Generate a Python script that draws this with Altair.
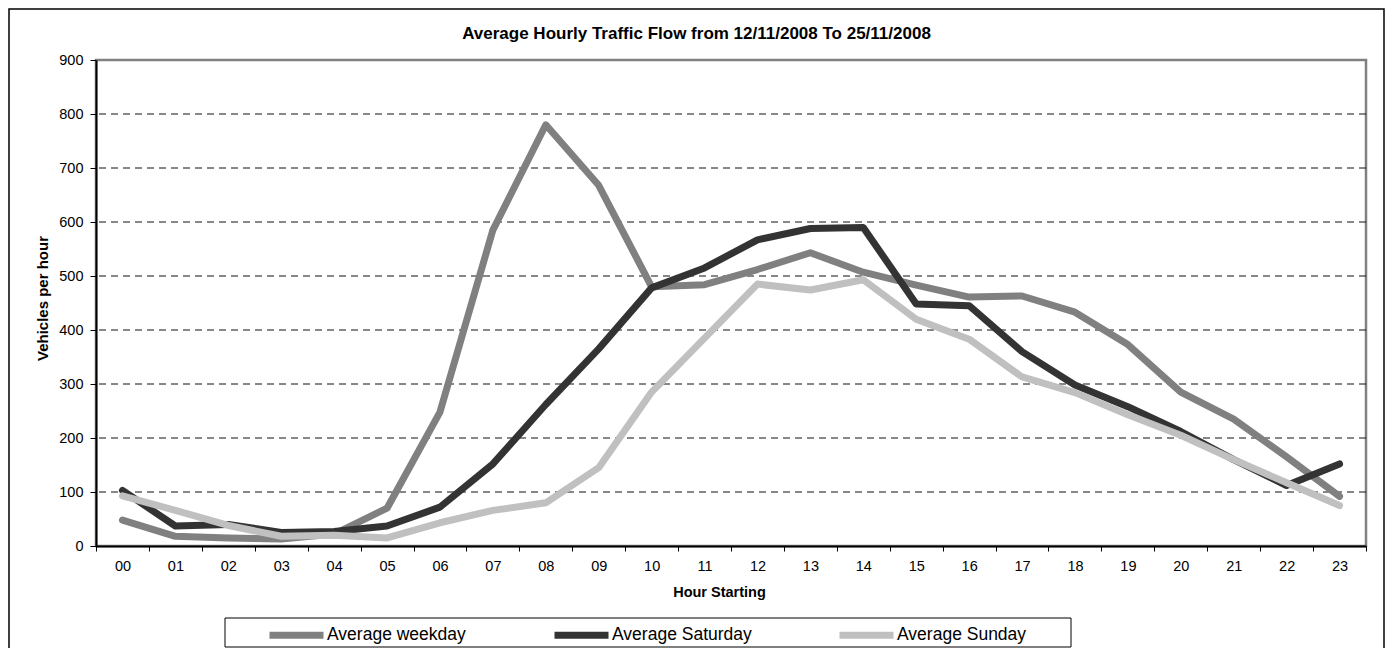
import altair as alt
import pandas as pd

hours = ["00", "01", "02", "03", "04", "05", "06", "07", "08", "09", "10", "11",
         "12", "13", "14", "15", "16", "17", "18", "19", "20", "21", "22", "23"]
weekday = [48, 18, 15, 13, 22, 70, 248, 585, 780, 668, 480, 484,
           512, 543, 507, 483, 461, 463, 433, 373, 285, 235, 165, 92]
saturday = [103, 37, 40, 25, 27, 37, 72, 152, 262, 365, 478, 515,
            567, 588, 590, 448, 445, 360, 298, 258, 212, 160, 112, 152]
sunday = [93, 66, 38, 18, 20, 15, 43, 66, 80, 145, 285, 385,
          485, 474, 493, 420, 383, 313, 284, 243, 205, 160, 117, 75]
series_names = ["Average weekday", "Average Saturday", "Average Sunday"]
series_colors = ["#808080", "#333333", "#c0c0c0"]
y_ticks = [0, 100, 200, 300, 400, 500, 600, 700, 800, 900]
grid_values = [100, 200, 300, 400, 500, 600, 700, 800]
title_text = "Average Hourly Traffic Flow from 12/11/2008 To 25/11/2008"
x_title = "Hour Starting"
y_title = "Vehicles per hour"

rows = []
for name, vals in zip(series_names, [weekday, saturday, sunday]):
    for h, v in zip(hours, vals):
        rows.append({"hour": h, "value": v, "series": name})
df = pd.DataFrame(rows)
grid_df = pd.DataFrame({"g": grid_values})
one = pd.DataFrame({"k": [0]})
title_df = pd.DataFrame({"t": [title_text]})

FONT = "Liberation Sans, Arial, sans-serif"

yscale = alt.Scale(domain=[0, 900], nice=False, zero=True)

x_enc = alt.X(
    "hour:N", sort=hours,
    scale=alt.Scale(type="band", domain=hours, paddingInner=0, paddingOuter=0),
    axis=alt.Axis(
        title=x_title, titleFont=FONT, titleFontSize=14.5, titleFontWeight="bold",
        titleColor="black", titleX=623, titleY=46, titleAlign="center",
        titleBaseline="middle", titleAngle=0,
        labelAngle=0, labelFont=FONT, labelFontSize=14.5, labelColor="black",
        labelPadding=8, tickBand="extent", tickSize=5, tickColor="black",
        tickWidth=1, domainColor="black", domainWidth=2, grid=False, zindex=1,
    ),
)
y_enc = alt.Y(
    "value:Q", scale=yscale,
    axis=alt.Axis(
        values=y_ticks, title=y_title, titleFont=FONT, titleFontSize=15,
        titleFontWeight="bold", titleColor="black", titleAngle=270,
        titleX=-53.5, titleY=238, titleAlign="center", titleBaseline="middle",
        labelFont=FONT, labelFontSize=14.5, labelColor="black", labelPadding=7,
        tickSize=6, tickColor="black", tickWidth=1, domainColor="black",
        domainWidth=2, grid=False, zindex=1,
    ),
)

frame = alt.Chart(one).mark_rect(filled=False, stroke="black", strokeWidth=1.5).encode(
    x=alt.value(-87), x2=alt.value(1288), y=alt.value(-51), y2=alt.value(620)
)

title = alt.Chart(title_df).mark_text(
    font=FONT, fontSize=17, fontWeight="bold", color="black",
    align="center", baseline="middle",
).encode(text="t:N", x=alt.value(600.5), y=alt.value(-26))

grid = alt.Chart(grid_df).mark_rule(color="#111111", strokeWidth=1, strokeDash=[7, 5]).encode(
    y=alt.Y("g:Q", scale=yscale)
)

legend_box = alt.Chart(one).mark_rect(filled=False, stroke="black", strokeWidth=1).encode(
    x=alt.value(129), x2=alt.value(975), y=alt.value(558), y2=alt.value(587)
)

lines = alt.Chart(df).mark_line(strokeWidth=7, strokeCap="round", strokeJoin="round").encode(
    x=x_enc,
    y=y_enc,
    color=alt.Color(
        "series:N",
        scale=alt.Scale(domain=series_names, range=series_colors),
        legend=alt.Legend(
            orient="none", legendX=170, legendY=544.5, direction="horizontal",
            title=None, symbolType="stroke", symbolSize=2916, symbolStrokeWidth=7,
            symbolOpacity=1, labelFont=FONT, labelFontSize=17.5, labelColor="black",
            labelOffset=0, columnPadding=73, gridAlign="all", padding=0,
            labelLimit=0,
        ),
    ),
)

chart = alt.layer(frame, title, grid, legend_box, lines).properties(
    width=1270,
    height=486,
    padding={"left": 88, "top": 52, "right": 19, "bottom": 102},
    autosize=alt.AutoSizeParams(type="none"),
).configure_view(stroke="#808080", strokeWidth=2.5)

chart.save("out.html", embed_options={"renderer": "svg", "actions": False})
